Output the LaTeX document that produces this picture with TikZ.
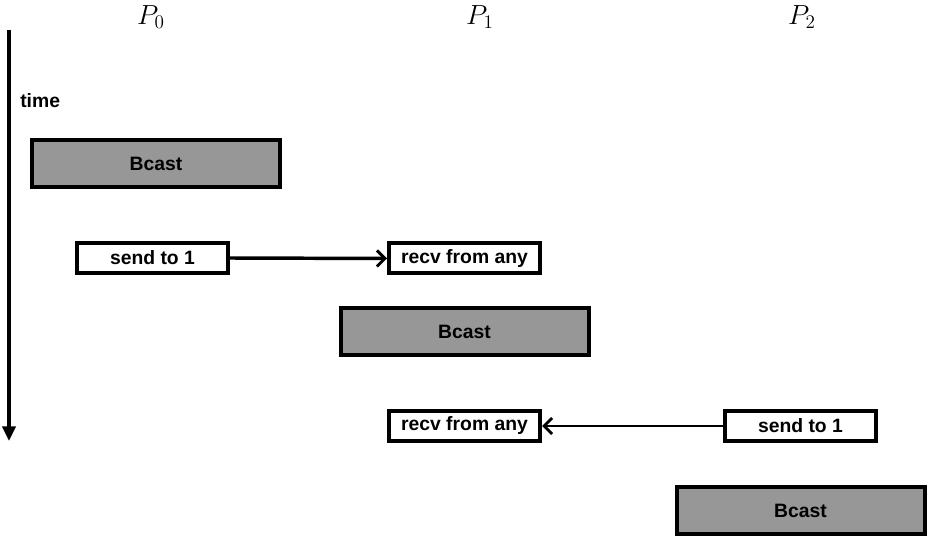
\documentclass[tikz,border=0pt]{standalone}
\usepackage{fontspec}
\setsansfont{Liberation Sans}
\usetikzlibrary{arrows.meta}
\definecolor{boxgray}{RGB}{151,151,151}
\begin{document}
\begin{tikzpicture}[x=0.75pt,y=-0.75pt,
  lbl/.style={font=\sffamily\bfseries\fontsize{14.5}{16}\selectfont},
  bigbox/.style={lbl,draw,line width=3pt,fill=boxgray,minimum width=186pt,minimum height=35.25pt,inner sep=0pt},
  msgbox/.style={lbl,draw,line width=3pt,fill=white,minimum width=113.25pt,minimum height=22.5pt,inner sep=0pt},
  msg/.style={line width=2.6pt,-{Straight Barb[length=6pt,width=12pt,line width=2.2pt]}},
  proc/.style={font=\fontsize{20.5}{24}\selectfont}]
\useasboundingbox (0,0) rectangle (928,538);
% process labels
\node[proc] (p0) at (151,17) {$P_0$};
\node[proc] (p1) at (480,17) {$P_1$};
\node[proc] (p2) at (802,17) {$P_2$};
% time axis
\coordinate (ttop) at (9,30);
\coordinate (tbot) at (9,441);
\draw[line width=2.4pt,-{Triangle[length=11pt,width=10pt]}] (ttop) -- (tbot);
\node[lbl,anchor=west,inner sep=0pt] (time) at (20,101) {time};
% boxes
\node[bigbox] (b1) at (156,163.5) {Bcast};
\node[msgbox] (s1) at (152.5,258) {send to 1};
\node[msgbox] (r1) at (464.5,258.5) {recv from any};
\node[bigbox] (b2) at (464.5,331.5) {Bcast};
\node[msgbox] (r2) at (464.5,426) {recv from any};
\node[msgbox] (s2) at (800.5,426) {send to 1};
\node[bigbox] (b3) at (800.5,510.5) {Bcast};
% messages
\draw[msg] (s1.east) -- (r1.west);
\draw[msg,line width=2.1pt] (s2.west) -- (r2.east);
\end{tikzpicture}
\end{document}
